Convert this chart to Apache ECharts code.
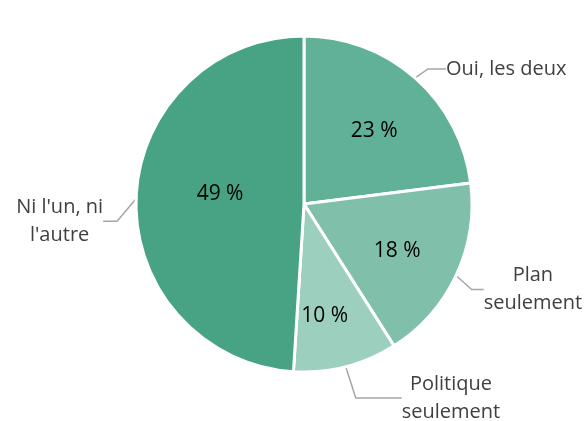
<!DOCTYPE html>
<html lang="fr">
<head>
<meta charset="utf-8">
<title>Pie</title>
<script src="https://cdn.jsdelivr.net/npm/echarts@6/dist/echarts.min.js"></script>
<style>
  html, body { margin: 0; padding: 0; background: #fff; }
  #chart { width: 586px; height: 421px; }
</style>
</head>
<body>
<div id="chart"></div>
<script>
// categories and values, clockwise from 12 o'clock
var categories = ['Oui, les deux', 'Plan\nseulement', 'Politique\nseulement', "Ni l'un, ni\nl'autre"];
var values = [23, 18, 10, 49];
var colors = ['#60b198', '#80c0ab', '#9dcfbf', '#47a384'];
// leader line lengths per slice (radial, horizontal)
var lineLen = [[12, 18], [14, 12], [20, 46], [14, 14]];
// small nudges of the labels [dx, dy]
var nameShift = [[0, 0], [-2, 8], [0, 12], [0, 23]];
var pctShift = [[2, 4], [0, 3], [-5, 12], [19, -7]];

var chart = echarts.init(document.getElementById('chart'));

var CENTER = [304, 204];
var R = 168;

// pie with the coloured slices
var slices = categories.map(function (c, i) {
  return { name: c, value: values[i], itemStyle: { color: colors[i] } };
});

// invisible pie, larger, only used to put the percentages a bit further out
var pctData = categories.map(function (c, i) {
  return { name: c, value: values[i] };
});

// invisible pie for the category labels
var nameData = categories.map(function (c, i) {
  return {
    name: c,
    value: values[i],
    labelLine: { length: lineLen[i][0], length2: lineLen[i][1] }
  };
});

chart.setOption({
  backgroundColor: '#fff',
  animation: false,
  series: [
    {
      type: 'pie',
      center: CENTER,
      radius: [0, R],
      startAngle: 90,
      silent: true,
      data: slices,
      itemStyle: { borderColor: '#fff', borderWidth: 3 },
      label: { show: false },
      labelLine: { show: false }
    },
    {
      type: 'pie',
      center: CENTER,
      radius: [0, 200],
      startAngle: 90,
      silent: true,
      data: pctData,
      itemStyle: { color: 'rgba(0,0,0,0)' },
      label: {
        show: true,
        position: 'inside',
        formatter: '{c} %',
        color: '#000',
        fontFamily: 'Open Sans',
        fontSize: 21
      },
      labelLine: { show: false },
      labelLayout: function (p) {
        return { dx: pctShift[p.dataIndex][0], dy: pctShift[p.dataIndex][1] };
      }
    },
    {
      type: 'pie',
      center: CENTER,
      radius: [0, R],
      startAngle: 90,
      silent: true,
      data: nameData,
      itemStyle: { color: 'rgba(0,0,0,0)' },
      label: {
        show: true,
        position: 'outside',
        formatter: '{b}',
        color: '#404040',
        fontFamily: 'Open Sans',
        fontSize: 20,
        lineHeight: 28,
        overflow: 'none'
      },
      labelLine: {
        show: true,
        lineStyle: { color: '#a6a6a6', width: 1.5 }
      },
      // keep the label box where it is but centre the lines inside it
      labelLayout: function (p) {
        var r = p.labelRect;
        var s = nameShift[p.dataIndex];
        return {
          x: r.x + r.width / 2 + s[0],
          y: r.y + r.height / 2 + s[1],
          align: 'center',
          verticalAlign: 'middle'
        };
      }
    }
  ]
});
</script>
</body>
</html>
